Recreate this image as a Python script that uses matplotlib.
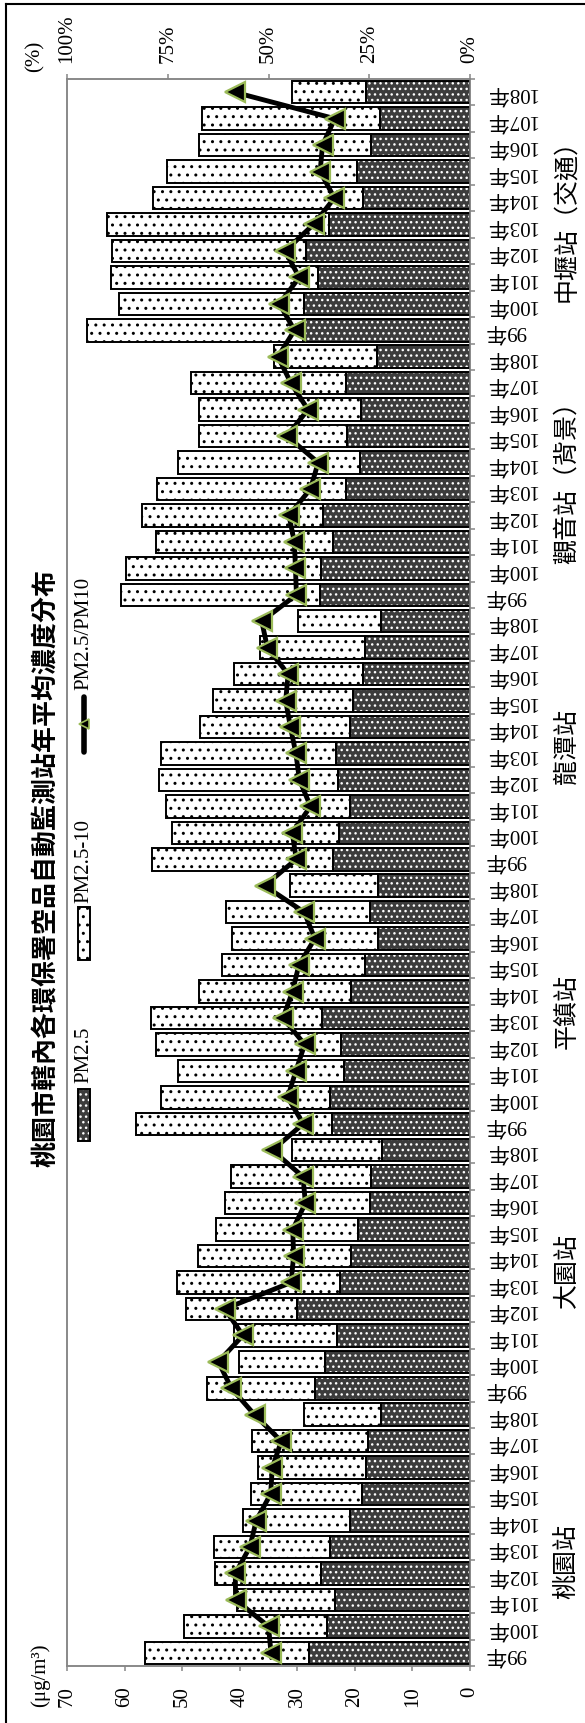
import numpy as np
import matplotlib
matplotlib.use("Agg")
import matplotlib.pyplot as plt
from matplotlib.patches import Rectangle
from matplotlib.lines import Line2D
from matplotlib.ticker import FixedLocator, PercentFormatter
import matplotlib.transforms as mtransforms

plt.rcParams["font.family"] = ["Liberation Serif", "Noto Sans CJK TC"]
plt.rcParams["hatch.linewidth"] = 1.0

# ---- data (annual mean concentrations, μg/m3) ----
stations = ["桃園站", "大園站", "平鎮站", "龍潭站", "觀音站（背景）", "中壢站（交通）"]
years = ["99年", "100年", "101年", "102年", "103年", "104年", "105年", "106年", "107年", "108年"]

pm25_taoyuan = [27.9, 24.8, 23.5, 25.8, 24.3, 20.9, 18.8, 18.1, 17.7, 15.4]
pm10_taoyuan = [56.5, 49.6, 40.4, 44.3, 44.5, 39.4, 38.0, 36.9, 37.8, 28.8]

pm25_dayuan = [27.0, 25.1, 23.1, 30.0, 22.6, 20.7, 19.4, 17.4, 17.2, 15.2]
pm10_dayuan = [45.6, 40.2, 41.0, 49.3, 50.9, 47.3, 44.1, 42.6, 41.5, 31.0]

pm25_pingzhen = [24.0, 24.3, 21.9, 22.4, 25.7, 20.7, 18.3, 15.9, 17.4, 15.9]
pm10_pingzhen = [58.0, 53.7, 50.7, 54.6, 55.4, 47.0, 43.1, 41.3, 42.3, 31.2]

pm25_longtan = [23.8, 22.8, 20.9, 22.9, 23.2, 20.9, 20.4, 18.5, 18.3, 15.4]
pm10_longtan = [55.2, 51.7, 52.8, 54.1, 53.7, 46.9, 44.6, 41.0, 36.4, 29.8]

pm25_guanyin = [26.1, 25.9, 23.8, 25.6, 21.5, 19.1, 21.4, 18.9, 21.5, 16.2]
pm10_guanyin = [60.6, 59.8, 54.6, 57.0, 54.3, 50.7, 47.1, 47.0, 48.4, 34.0]

pm25_zhongli = [29.0, 28.8, 26.4, 28.5, 24.5, 18.5, 19.6, 17.2, 15.6, 18.1]
pm10_zhongli = [66.6, 60.9, 62.3, 62.1, 63.1, 55.0, 52.7, 47.0, 46.5, 31.0]

pm25 = np.array(pm25_taoyuan + pm25_dayuan + pm25_pingzhen +
                pm25_longtan + pm25_guanyin + pm25_zhongli)
pm10 = np.array(pm10_taoyuan + pm10_dayuan + pm10_pingzhen +
                pm10_longtan + pm10_guanyin + pm10_zhongli)
coarse = pm10 - pm25          # PM2.5-10 fraction
ratio = pm25 / pm10           # PM2.5/PM10
labels = years * len(stations)
pos = np.arange(len(labels))

# ---- figure / layout (pixel helpers) ----
W, H = 585, 1724
fig = plt.figure(figsize=(W / 100, H / 100), dpi=100)


def fx(px):
    return px / W


def fy(py):
    return 1 - py / H


x_left, x_right, y_top, y_bot = 67, 470, 80, 1667
ax = fig.add_axes([fx(x_left), fy(y_bot), fx(x_right - x_left), (y_bot - y_top) / H])

GRAY = "#868686"
DARK = "#3c3c3c"
GREEN = "#9BBB59"
bh = 0.85

# PM2.5 bars (dark, white dots)
ax.barh(pos, pm25, height=bh, color=DARK, edgecolor="white", hatch="...", linewidth=0, zorder=2)
ax.barh(pos, pm25, height=bh, fill=False, edgecolor="black", linewidth=1.4, zorder=3)
# PM2.5-10 bars (white, black dots)
ax.barh(pos, coarse, left=pm25, height=bh, color="white", edgecolor="black", hatch="..", linewidth=0, zorder=2)
ax.barh(pos, coarse, left=pm25, height=bh, fill=False, edgecolor="black", linewidth=1.4, zorder=3)

ax.set_xlim(70, 0)
ax.set_ylim(-0.5, len(labels) - 0.5)

ax.xaxis.set_major_locator(FixedLocator(np.arange(0, 71, 10)))
ax.tick_params(axis="x", direction="out", length=3.6, width=1.1, color=GRAY,
               pad=10.5, labelsize=15, labelrotation=90)

ax.yaxis.tick_right()
ax.set_yticks(pos)
ax.set_yticklabels(labels)
ax.set_yticks(np.arange(-0.5, len(labels), 1), minor=True)
ax.tick_params(axis="y", which="major", length=0, pad=10.8, labelsize=15)
ax.tick_params(axis="y", which="minor", direction="out", length=3.6, width=1.1, color=GRAY)
for t in ax.get_yticklabels():
    t.set_rotation(180)
    t.set_va("center")
    t.set_ha("left")

for s in ax.spines.values():
    s.set_color(GRAY)
    s.set_linewidth(1.1)

# ratio line on the percent axis
ax2 = ax.twiny()
ax2.set_xlim(1, 0)
ax2.plot(ratio, pos, color="black", lw=3.5, marker="<", ms=14,
         mfc="black", mec=GREEN, mew=1.6, solid_joinstyle="round", zorder=5)
ax2.xaxis.set_major_locator(FixedLocator([0, 0.25, 0.5, 0.75, 1.0]))
ax2.xaxis.set_major_formatter(PercentFormatter(1.0, decimals=0))
ax2.tick_params(axis="x", direction="out", length=3.6, width=1.1, color=GRAY,
                pad=8.5, labelsize=15, labelrotation=90)
for s in ax2.spines.values():
    s.set_color(GRAY)
    s.set_linewidth(1.1)

# station group labels
blend = mtransforms.blended_transform_factory(fig.transFigure, ax.transData)
label_shift = [-1.0, 0, -0.2, -0.2, 0, -0.1]
for k, name in enumerate(stations):
    ax.text(fx(567), 10 * k + 4.5 + label_shift[k], name, transform=blend,
            rotation=90, ha="center", va="center", fontsize=18,
            family=["Noto Sans CJK TC"])

# title
fig.text(fx(46), fy(868), "桃園市轄內各環保署空品自動監測站年平均濃度分布",
         rotation=90, ha="center", va="center", fontsize=18.7, weight="bold",
         family=["Noto Sans CJK TC"])

# axis unit labels
fig.text(fx(40), fy(1707), "(μg/m³)", rotation=90, ha="center", va="bottom", fontsize=15)
fig.text(fx(35), fy(72), "(%)", rotation=90, ha="center", va="bottom", fontsize=15)

# legend
lx = 84
fig.add_artist(Rectangle((fx(lx - 6), fy(1142)), 12 / W, 52 / H, transform=fig.transFigure,
                         facecolor=DARK, edgecolor="white", hatch="...", linewidth=0))
fig.add_artist(Rectangle((fx(lx - 6), fy(1142)), 12 / W, 52 / H, transform=fig.transFigure,
                         fill=False, edgecolor="black", linewidth=1.4))
fig.text(fx(lx), fy(1083), "PM2.5", rotation=90, ha="center", va="bottom", fontsize=15)

fig.add_artist(Rectangle((fx(lx - 6), fy(961)), 12 / W, 53 / H, transform=fig.transFigure,
                         facecolor="white", edgecolor="black", hatch="..", linewidth=0))
fig.add_artist(Rectangle((fx(lx - 6), fy(961)), 12 / W, 53 / H, transform=fig.transFigure,
                         fill=False, edgecolor="black", linewidth=1.4))
fig.text(fx(lx), fy(903), "PM2.5-10", rotation=90, ha="center", va="bottom", fontsize=15)

fig.add_artist(Line2D([fx(lx), fx(lx)], [fy(753), fy(698)], transform=fig.transFigure,
                      color="black", lw=4, solid_capstyle="round"))
fig.add_artist(Line2D([fx(lx)], [fy(725)], transform=fig.transFigure, marker="<",
                      ms=6.5, mfc="black", mec=GREEN, mew=1.2, linestyle="none"))
fig.text(fx(lx), fy(690), "PM2.5/PM10", rotation=90, ha="center", va="bottom", fontsize=15)

# outer frame (left and top edges)
fig.add_artist(Line2D([fx(6), fx(6)], [0, fy(5)], transform=fig.transFigure, color="black", lw=1.5))
fig.add_artist(Line2D([fx(6), 1], [fy(5), fy(5)], transform=fig.transFigure, color="black", lw=1.5))

fig.savefig("out.png", dpi=100)
